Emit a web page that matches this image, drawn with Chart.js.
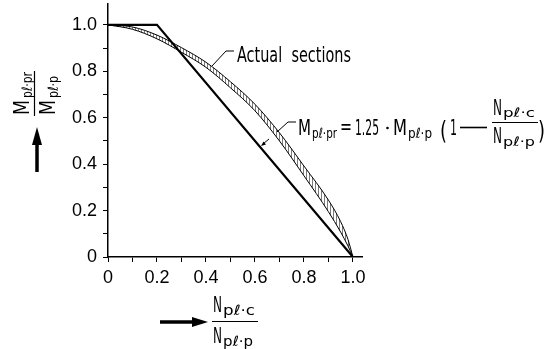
<!DOCTYPE html>
<html>
<head>
<meta charset="utf-8">
<script src="https://cdn.jsdelivr.net/npm/chart.js@4/dist/chart.umd.min.js"></script>
<style>
html,body{margin:0;padding:0;background:#fff;}
#wrap{width:550px;height:349px;position:relative;}
</style>
</head>
<body>
<div id="wrap"><canvas id="c" width="550" height="349"></canvas></div>
<script>
// ---- data ----
const bandX = [0, 0.1, 0.2, 0.3, 0.4, 0.5, 0.6, 0.7, 0.8, 0.9, 0.95, 0.98, 1.0];
const upperBand = [1.0, 0.991, 0.956, 0.902, 0.839, 0.755, 0.658, 0.535, 0.392, 0.245, 0.152, 0.075, 0];
const lowerBand = [1.0, 0.981, 0.94, 0.882, 0.817, 0.729, 0.63, 0.5, 0.35, 0.195, 0.107, 0.047, 0];
const designX = [0, 0.2, 1.0];
const designY = [1.0, 1.0, 0];
const tickLabels = ['0', '0.2', '0.4', '0.6', '0.8', '1.0'];
const annotationText = 'Actual  sections';

const FONT = "'Liberation Sans Narrow', 'DejaVu Sans Condensed', 'Liberation Sans', sans-serif";
const TICKFONT = "'Liberation Sans', Arial, sans-serif";

function pts(xs, ys) { return xs.map((x, i) => ({x: x, y: ys[i]})); }

// hatch pattern (vertical lines)
const pc = document.createElement('canvas');
pc.width = 3; pc.height = 3;
const pctx = pc.getContext('2d');
pctx.fillStyle = '#ffffff'; pctx.fillRect(0, 0, 3, 3);
pctx.fillStyle = '#7a7a7a'; pctx.fillRect(0, 0, 1, 3);
const hatch = document.getElementById('c').getContext('2d').createPattern(pc, 'repeat');

function labelFor(v) {
  const k = Math.round(v * 10);
  if (k % 2 !== 0) return '';
  return tickLabels[k / 2] !== undefined ? tickLabels[k / 2] : '';
}

function fitText(ctx, str, x0, x1, y, size, weight) {
  ctx.font = (weight || '') + ' ' + size + 'px ' + FONT;
  const w = ctx.measureText(str).width;
  ctx.save();
  ctx.translate(x0, y);
  ctx.scale((x1 - x0) / w, 1);
  ctx.textBaseline = 'alphabetic';
  ctx.textAlign = 'left';
  ctx.fillText(str, 0, 0);
  ctx.restore();
}

function line(ctx, pts, w) {
  ctx.beginPath();
  ctx.moveTo(pts[0][0], pts[0][1]);
  for (let i = 1; i < pts.length; i++) ctx.lineTo(pts[i][0], pts[i][1]);
  ctx.lineWidth = w;
  ctx.stroke();
}

const annotations = {
  id: 'annotations',
  afterDraw(chart) {
    const ctx = chart.ctx;
    ctx.save();
    ctx.fillStyle = '#000';
    ctx.strokeStyle = '#000';
    ctx.lineCap = 'butt';

    // "Actual sections"
    fitText(ctx, annotationText, 237, 351, 62, 21);
    line(ctx, [[234, 51], [226, 51], [212, 66]], 1);

    // formula
    const MB = 135, SB = 138;
    fitText(ctx, 'M', 298, 311, MB, 21);
    fitText(ctx, 'pℓ·pr', 312, 337, SB, 14);
    fitText(ctx, '=', 340, 352, MB - 1, 21);
    fitText(ctx, '1.25', 355, 379, MB, 21);
    ctx.beginPath(); ctx.arc(387.5, 128, 1.3, 0, Math.PI * 2); ctx.fill();
    fitText(ctx, 'M', 393, 407, MB, 21);
    fitText(ctx, 'pℓ·p', 408, 432, SB, 14);
    fitText(ctx, '(', 440, 447, MB + 4, 24);
    fitText(ctx, '1', 450, 457, MB, 21);
    line(ctx, [[460, 127.5], [487, 127.5]], 1.6);
    fitText(ctx, 'N', 493, 502, 115, 21);
    fitText(ctx, 'pℓ·c', 503, 535, 117, 13);
    line(ctx, [[492, 122.5], [538, 122.5]], 1.2);
    fitText(ctx, 'N', 493, 502, 143, 21);
    fitText(ctx, 'pℓ·p', 503, 535, 146, 13);
    fitText(ctx, ')', 538, 545, MB + 4, 24);
    // formula leader
    line(ctx, [[296, 122], [288, 122], [277, 132]], 1);
    line(ctx, [[269, 139], [263, 144]], 1);
    ctx.beginPath();
    ctx.moveTo(261, 146); ctx.lineTo(266, 144.5); ctx.lineTo(263.5, 141.5); ctx.closePath(); ctx.fill();

    // y-axis label (rotated fraction)
    ctx.save();
    ctx.rotate(-Math.PI / 2);
    fitText(ctx, 'M', -115, -100, 29, 21);
    fitText(ctx, 'pℓ·pr', -98, -72, 32, 14);
    ctx.beginPath(); ctx.moveTo(-116, 34.5); ctx.lineTo(-71, 34.5); ctx.lineWidth = 1.2; ctx.stroke();
    fitText(ctx, 'M', -115, -100, 55, 21);
    fitText(ctx, 'pℓ·p', -98, -76, 58, 14);
    ctx.restore();
    // up arrow
    line(ctx, [[37, 172], [37, 142]], 3.5);
    ctx.beginPath(); ctx.moveTo(37, 127); ctx.lineTo(32, 145); ctx.lineTo(42, 145); ctx.closePath(); ctx.fill();

    // x-axis label
    fitText(ctx, 'N', 213, 222, 312, 21);
    fitText(ctx, 'pℓ·c', 223, 255, 315, 14);
    line(ctx, [[212, 321.5], [258, 321.5]], 1.2);
    fitText(ctx, 'N', 213, 222, 343, 21);
    fitText(ctx, 'pℓ·p', 223, 253, 346, 14);
    // right arrow
    line(ctx, [[160, 322], [195, 322]], 3.5);
    ctx.beginPath(); ctx.moveTo(208, 322); ctx.lineTo(192, 317); ctx.lineTo(192, 327); ctx.closePath(); ctx.fill();

    ctx.restore();
  }
};

new Chart(document.getElementById('c'), {
  type: 'line',
  data: {
    datasets: [
      {
        data: pts(designX, designY),
        borderColor: '#000', borderWidth: 2.2, pointRadius: 0, fill: false, tension: 0
      },
      {
        data: pts(bandX, lowerBand),
        borderColor: '#000', borderWidth: 1, pointRadius: 0, fill: false,
        cubicInterpolationMode: 'monotone'
      },
      {
        data: pts(bandX, upperBand),
        borderColor: '#000', borderWidth: 1, pointRadius: 0,
        fill: 1, backgroundColor: hatch,
        cubicInterpolationMode: 'monotone'
      }
    ]
  },
  options: {
    responsive: false,
    animation: false,
    devicePixelRatio: 1,
    layout: { padding: { left: 0, right: 188, top: 4, bottom: 0 } },
    plugins: { legend: { display: false }, tooltip: { enabled: false } },
    scales: {
      x: {
        type: 'linear', min: 0, max: 1.037,
        grid: { drawOnChartArea: false, drawTicks: true, tickLength: 5, color: '#000', tickColor: '#000' },
        border: { display: true, color: '#000', width: 1.5 },
        ticks: {
          stepSize: 0.1, autoSkip: false, maxRotation: 0, includeBounds: false,
          color: '#000', padding: 5, font: { family: TICKFONT, size: 18 },
          callback: (v) => labelFor(v)
        },
        afterFit: (s) => { s.height = 92; s.paddingLeft = 0; s.paddingRight = 0; }
      },
      y: {
        type: 'linear', min: 0, max: 1.09,
        grid: { drawOnChartArea: false, drawTicks: true, tickLength: 5, color: '#000', tickColor: '#000' },
        border: { display: true, color: '#000', width: 1.5 },
        ticks: {
          stepSize: 0.1, autoSkip: false, includeBounds: false,
          color: '#000', padding: 6, font: { family: TICKFONT, size: 18 },
          callback: (v) => labelFor(v)
        },
        afterFit: (s) => { s.width = 108; s.paddingTop = 0; s.paddingBottom = 0; }
      }
    }
  },
  plugins: [annotations]
});
</script>
</body>
</html>
